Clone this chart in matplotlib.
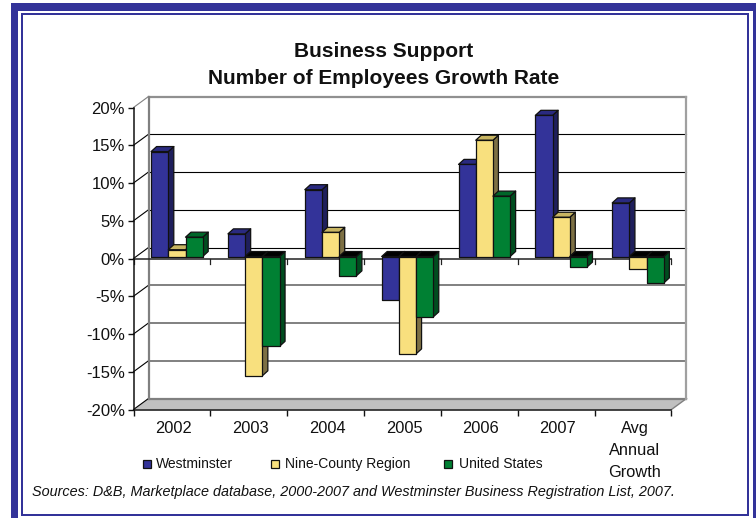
import matplotlib
matplotlib.use("Agg")
import matplotlib.pyplot as plt
from matplotlib.patches import Rectangle

plt.rcParams['font.family'] = ['Liberation Sans', 'DejaVu Sans']

W, H = 756, 518

# Data
categories = ['2002', '2003', '2004', '2005', '2006', '2007', 'Avg\nAnnual\nGrowth']
westminster = [13.9, 3.0, 8.85, -5.7, 12.2, 18.7, 7.1]
nine_county = [0.9, -15.8, 3.2, -12.9, 15.4, 5.2, -1.6]
united_states = [2.56, -11.9, -2.56, -8.0, 8.0, -1.4, -3.5]
yticks = [-20, -15, -10, -5, 0, 5, 10, 15, 20]

series = [
    ('Westminster', westminster, '#333399', '#1F1F5C', '#2A2A80'),
    ('Nine-County Region', nine_county, '#F8E07E', '#7D7044', '#C8B562'),
    ('United States', united_states, '#008033', '#004D1F', '#006629'),
]

fig = plt.figure(figsize=(W / 100, H / 100), dpi=100)


def px_box(x0, y0, x1, y1, color):
    fig.add_artist(Rectangle((x0 / W, 1 - y1 / H), (x1 - x0) / W, (y1 - y0) / H,
                             transform=fig.transFigure, facecolor=color, edgecolor='none',
                             zorder=-5))


# Page frame
blue = '#333399'
px_box(11, 3, 756, 518, blue)
px_box(18, 11, 753, 518, 'white')
px_box(20.5, 13, 749, 516, blue)
px_box(23, 15, 747, 513.5, 'white')

# Front plane of the chart
left, right, top, bottom = 133.5, 671.5, 107.5, 409.5
ax = fig.add_axes([left / W, 1 - bottom / H, (right - left) / W, (bottom - top) / H])
ax.patch.set_alpha(0)
ax.set_xlim(0, len(categories))
ax.set_ylim(-20, 20)

px_x = (right - left) / len(categories)
px_y = (bottom - top) / 40
wall_dx, wall_dy = 15 / px_x, 11 / px_y     # depth of the 3D box
bar_dx, bar_dy = 5.5 / px_x, 5 / px_y       # depth of a bar
lift = 2 / px_y                             # bars stand a bit behind the front plane
bar_w = 17.2 / px_x
bar_start = 17.6 / px_x
n = len(categories)

# Floor
ax.fill([0, n, n + wall_dx, wall_dx], [-20, -20, -20 + wall_dy, -20 + wall_dy],
        facecolor='#C0C0C0', edgecolor='none', zorder=1, clip_on=False)
ax.plot([n, n + wall_dx], [-20, -20 + wall_dy], color='#808080', lw=1, zorder=1, clip_on=False)

# Back wall gridlines and left wall diagonals
for v in yticks:
    if v == -20:
        ax.plot([wall_dx, n + wall_dx], [v + wall_dy] * 2, color='#808080', lw=1.6, zorder=2, clip_on=False)
    elif v == 20:
        ax.plot([wall_dx, n + wall_dx], [v + wall_dy] * 2, color='#909090', lw=1.6, zorder=2, clip_on=False)
    elif v >= 0:
        ax.plot([wall_dx, n + wall_dx], [v + wall_dy] * 2, color='black', lw=0.8, zorder=2, clip_on=False)
    else:
        ax.plot([wall_dx, n + wall_dx], [v + wall_dy] * 2, color='#808080', lw=1.4, zorder=2, clip_on=False)
    diag = '#808080' if v == 20 else 'black'
    ax.plot([0, wall_dx], [v, v + wall_dy], color=diag, lw=0.8, zorder=2, clip_on=False)
ax.plot([wall_dx, wall_dx], [-20 + wall_dy, 20 + wall_dy], color='#808080', lw=1.6, zorder=2, clip_on=False)
ax.plot([n + wall_dx, n + wall_dx], [-20 + wall_dy, 20 + wall_dy], color='#A0A0A0', lw=1.6, zorder=2, clip_on=False)

# Axis through zero with its ticks
ax.axhline(0, color='#222222', lw=1.1, zorder=3)
for i in range(n + 1):
    ax.plot([i, i], [0, -5 / px_y], color='#222222', lw=0.9, zorder=3, clip_on=False)

# Bars
edge = dict(edgecolor='#111111', linewidth=0.9, joinstyle='round', clip_on=False)
z = 4
for i in range(n):
    for s, (name, vals, front, side, lid) in enumerate(series):
        v = vals[i]
        x0 = i + bar_start + s * bar_w
        x1 = x0 + bar_w
        base = lift
        end = v + lift
        high = max(base, end)
        low = min(base, end)
        lid_color = lid if v > 0 else 'black'
        ax.fill([x1, x1 + bar_dx, x1 + bar_dx, x1],
                [low, low + bar_dy, high + bar_dy, high], facecolor=side, zorder=z, **edge)
        ax.fill([x0, x1, x1 + bar_dx, x0 + bar_dx],
                [high, high, high + bar_dy, high + bar_dy], facecolor=lid_color, zorder=z, **edge)
        ax.bar(x0, high - low, width=bar_w, bottom=low, align='edge', color=front,
               zorder=z, **edge)
        z += 1

# Axes
for name in ('top', 'right'):
    ax.spines[name].set_visible(False)
for name in ('left', 'bottom'):
    ax.spines[name].set_linewidth(1.1)
    ax.spines[name].set_color('#111111')
    ax.spines[name].set_zorder(3)
ax.set_yticks(yticks)
ax.set_yticklabels([f'{v}%' for v in yticks], fontsize=12, color='#111111')
ax.set_xticks(range(n + 1))
ax.set_xticklabels([])
ax.set_xticks([i + 0.52 for i in range(n)], minor=True)
ax.set_xticklabels(categories, minor=True, fontsize=11.8, color='#111111', linespacing=1.6)
ax.tick_params(axis='y', length=4, width=1, pad=2.2, color='#111111')
ax.tick_params(axis='x', which='major', length=4.5, width=1, color='#111111')
ax.tick_params(axis='x', which='minor', length=0, pad=8)

# Title
fig.suptitle('Business Support\nNumber of Employees Growth Rate', x=384 / W, y=1 - 42 / H,
             fontsize=15, fontweight='bold', color='#111111', va='top', linespacing=1.5)

# Legend
legend_items = [(142.5, 156), (271, 285), (444.5, 459)]
for (sx, tx), (name, vals, front, side, lid) in zip(legend_items, series):
    fig.add_artist(Rectangle((sx / W, 1 - 467.5 / H), 8 / W, 8 / H, transform=fig.transFigure,
                             facecolor=front, edgecolor='#111111', linewidth=0.9))
    fig.text(tx / W, 1 - 468 / H, name, fontsize=10, color='#111111', va='baseline', ha='left')

# Source note
fig.text(32 / W, 1 - 496 / H,
         'Sources: D&B, Marketplace database, 2000-2007 and Westminster Business Registration List, 2007.',
         fontsize=10.4, style='italic', color='#111111', va='baseline', ha='left')

fig.savefig('out.png', dpi=100)
